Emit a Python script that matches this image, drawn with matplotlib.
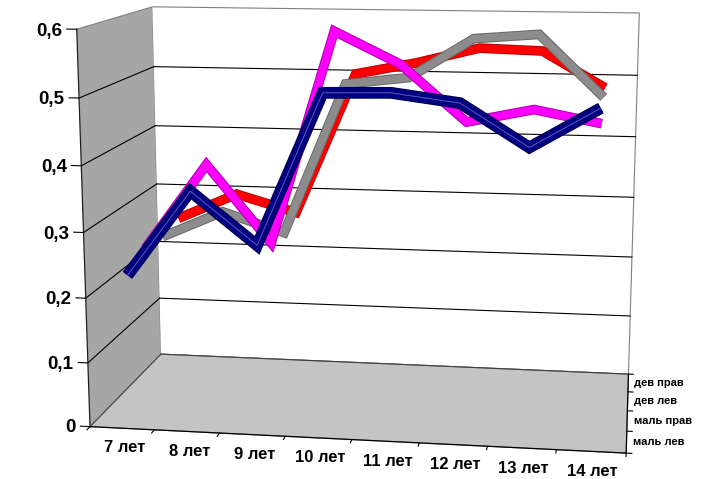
import numpy as np
import matplotlib
matplotlib.use('Agg')
import matplotlib.pyplot as plt
import matplotlib.patheffects as pe
from mpl_toolkits.mplot3d import proj3d

plt.rcParams['font.family'] = ['Liberation Sans', 'DejaVu Sans']

categories = ['7 лет', '8 лет', '9 лет', '10 лет', '11 лет', '12 лет', '13 лет', '14 лет']
series_names = ['маль лев', 'маль прав', 'дев лев', 'дев прав']
mal_lev = [0.225, 0.357, 0.278, 0.508, 0.510, 0.497, 0.435, 0.494]
mal_prav = [0.245, 0.380, 0.260, 0.588, 0.540, 0.455, 0.476, 0.457]
dev_lev = [0.242, 0.286, 0.255, 0.496, 0.508, 0.570, 0.578, 0.483]
dev_prav = [0.252, 0.296, 0.268, 0.500, 0.520, 0.545, 0.542, 0.485]
value_ticks = [0.0, 0.1, 0.2, 0.3, 0.4, 0.5, 0.6]
value_labels = ['0', '0,1', '0,2', '0,3', '0,4', '0,5', '0,6']

W, H = 720, 479
fig = plt.figure(figsize=(W / 100, H / 100), dpi=100)
ax = fig.add_axes([-0.251736, -0.525177, 1.5, 2.1], projection='3d')
nx, ns, zmax = len(categories), len(series_names), value_ticks[-1]
ax.set_xlim(0, nx); ax.set_ylim(0, ns); ax.set_zlim(0, zmax)

# camera fitted to the reference's 3D box
ax.view_init(elev=11.406, azim=-81.363)
ax.set_proj_type('persp', focal_length=0.3215)
ax.set_box_aspect((1, 0.5, 0.7478), zoom=0.6698)

ax.computed_zorder = False
ax.grid(False)
ax.xaxis.set_pane_color('#a6a6a6')
ax.yaxis.set_pane_color('#ffffff')
ax.zaxis.set_pane_color('#c4c4c4')
for a in (ax.xaxis, ax.yaxis, ax.zaxis):
    a.pane.set_edgecolor('#808080')
    a.pane.set_linewidth(0.8)
    a.line.set_color((0, 0, 0, 0))
ax.set_xticks([]); ax.set_yticks([]); ax.set_zticks([])

fig.canvas.draw()
M = ax.get_proj()


def text3(x, y, z, s, **k):
    xs, ys, _ = proj3d.proj_transform(np.atleast_1d(x), np.atleast_1d(y), np.atleast_1d(z), M)
    ax.text2D(float(xs[0]), float(ys[0]), s, transform=ax.transData, **k)


kw = dict(clip_on=False)
# gridlines on back and left walls
for z in value_ticks[1:-1]:
    ax.plot([0, nx], [ns, ns], [z, z], color='black', lw=0.8, zorder=1, **kw)
    ax.plot([0, 0], [0, ns], [z, z], color='black', lw=0.8, zorder=1, **kw)
ax.plot([0, nx], [ns, ns], [0, 0], color='#404040', lw=0.8, zorder=1, **kw)
ax.plot([0, 0], [0, ns], [0, 0], color='#404040', lw=0.8, zorder=1, **kw)
# axis lines
ax.plot([0, 0], [0, 0], [0, zmax], color='#202020', lw=0.9, zorder=2, **kw)
ax.plot([0, nx], [0, 0], [0, 0], color='black', lw=0.9, zorder=2, **kw)
ax.plot([nx, nx], [0, ns], [0, 0], color='black', lw=0.9, zorder=2, **kw)

# value axis ticks + labels
for z, lab in zip(value_ticks, value_labels):
    ax.plot([0, -0.15], [0, 0], [z, z], color='black', lw=0.8, **kw)
    text3(-0.22, 0, z, lab, ha='right', va='center_baseline', fontsize=13.5,
          fontweight='bold', zorder=10)
# category ticks + labels
for i in range(nx + 1):
    ax.plot([i, i], [0, -0.15], [0, 0], color='black', lw=0.8, **kw)
for i, lab in enumerate(categories):
    text3(i + 0.53, 0, -0.031, lab, ha='center', va='center', fontsize=12,
          fontweight='bold', zorder=10)
# series ticks + labels
for j in range(ns + 1):
    ax.plot([nx, nx + 0.08], [j, j], [0, 0], color='black', lw=0.8, **kw)
for j, lab in enumerate(series_names):
    text3(nx + 0.1, j + 0.5, 0, lab, ha='left', va='center', fontsize=8,
          fontweight='bold', zorder=10)

# series ribbons (back to front)
xc = np.arange(nx) + 0.5
styles = [
    (mal_lev, '#000080', '#000050', 7.0, 6),
    (mal_prav, '#ff00ff', '#b000b0', 5.5, 5),
    (dev_lev, '#8c8c8c', '#6a6a6a', 5.5, 4),
    (dev_prav, '#ff0000', '#c00000', 5.5, 3),
]
for j, (vals, col, edge, lw, zo) in enumerate(styles):
    ax.plot(xc, np.full(nx, j + 0.5), vals, color=col, lw=lw, zorder=zo,
            solid_joinstyle='miter', solid_capstyle='butt',
            path_effects=[pe.Stroke(linewidth=lw + 1.5, foreground=edge), pe.Normal()], **kw)
    if j == 0:
        ax.plot(xc, np.full(nx, j + 0.5), vals, color='#5c5cbc', lw=0.7, zorder=zo + 0.5,
                solid_joinstyle='miter', **kw)

fig.savefig('out.png', dpi=100)
